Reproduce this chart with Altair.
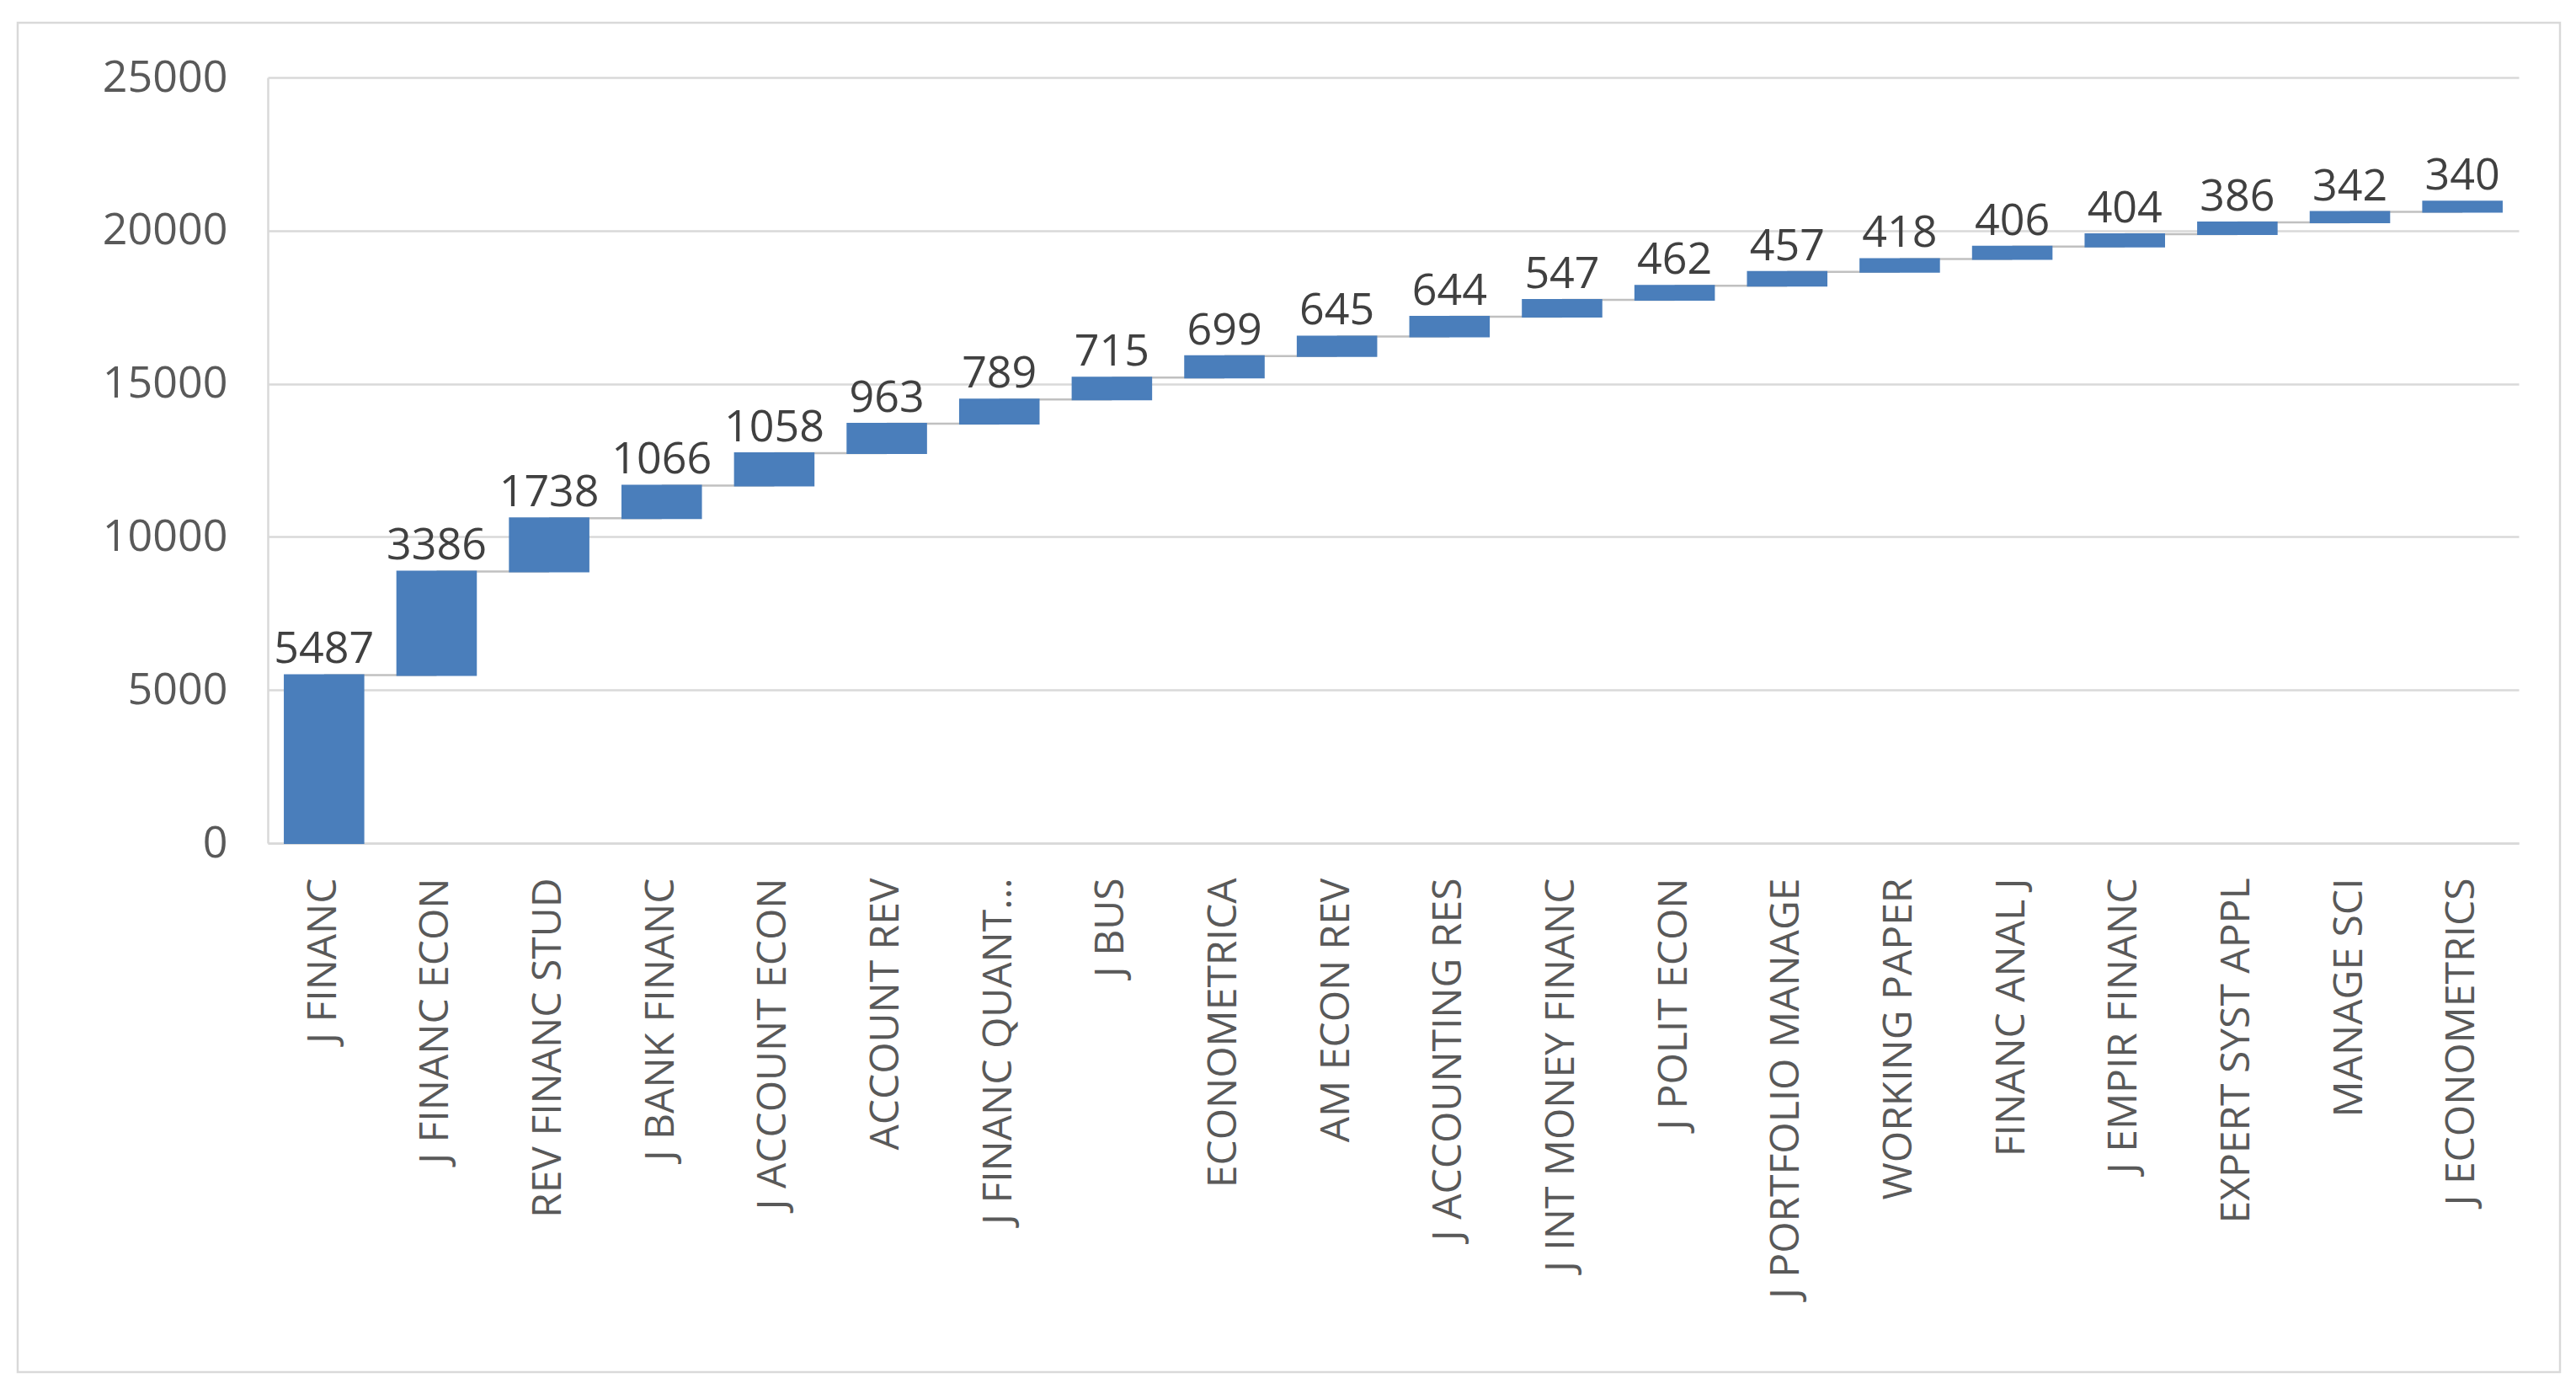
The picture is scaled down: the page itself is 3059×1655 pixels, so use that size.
import altair as alt
import pandas as pd

journals = [
    "J FINANC", "J FINANC ECON", "REV FINANC STUD", "J BANK FINANC",
    "J ACCOUNT ECON", "ACCOUNT REV", "J FINANC QUANT…", "J BUS",
    "ECONOMETRICA", "AM ECON REV", "J ACCOUNTING RES", "J INT MONEY FINANC",
    "J POLIT ECON", "J PORTFOLIO MANAGE", "WORKING PAPER", "FINANC ANAL J",
    "J EMPIR FINANC", "EXPERT SYST APPL", "MANAGE SCI", "J ECONOMETRICS",
]
counts = [5487, 3386, 1738, 1066, 1058, 963, 789, 715, 699, 645,
          644, 547, 462, 457, 418, 406, 404, 386, 342, 340]
y_ticks = [0, 5000, 10000, 15000, 20000, 25000]

df = pd.DataFrame({"journal": journals, "count": counts, "order": list(range(len(journals)))})

FONT = "Open Sans"
BLUE = "#4a7ebb"

xscale = alt.Scale(domain=journals, paddingInner=0.3, paddingOuter=0.15)
yscale = alt.Scale(domain=[0, 25000], nice=False, zero=True)

base = alt.Chart(df).transform_window(
    end="sum(count)", sort=[alt.SortField("order")], frame=[None, 0]
).transform_window(
    nxt="lead(journal)", sort=[alt.SortField("order")]
).transform_calculate(
    start="datum.end - datum.count"
)

xaxis = alt.Axis(
    title=None, labelAngle=-90, labelFontSize=48, labelPadding=41,
    labelLimit=1000, grid=False, ticks=False, labelColor="#595959",
    labelFont=FONT, domainColor="#d9d9d9", domainWidth=2.5,
)
yaxis = alt.Axis(
    title=None, values=y_ticks, format="d", labelFontSize=52, labelPadding=48,
    ticks=False, grid=True, gridColor="#d9d9d9", gridWidth=2.5,
    labelColor="#595959", labelFont=FONT, domainColor="#d9d9d9",
    domainWidth=2.5,
)

connectors = base.transform_filter("datum.nxt != null").mark_rule(
    color="#c0c0c0", strokeWidth=2.5
).encode(
    x=alt.X("journal:N", scale=xscale, axis=xaxis),
    x2="nxt:N",
    y=alt.Y("end:Q", scale=yscale, axis=yaxis),
)

bars = base.mark_bar(color=BLUE, stroke=BLUE, strokeWidth=2).encode(
    x=alt.X("journal:N", scale=xscale, axis=xaxis),
    y=alt.Y("start:Q", scale=yscale, axis=yaxis),
    y2="end:Q",
)

labels = base.mark_text(
    font=FONT, fontSize=52, color="#404040", baseline="alphabetic", dy=-14
).encode(
    x=alt.X("journal:N", scale=xscale, axis=xaxis),
    y=alt.Y("end:Q", scale=yscale, axis=yaxis),
    text=alt.Text("count:Q", format="d"),
)

frame = alt.Chart(pd.DataFrame({"a": [0]})).mark_rect(
    fill=None, stroke="#d9d9d9", strokeWidth=2.5
).encode(
    x=alt.value(-297), x2=alt.value(2722),
    y=alt.value(-65), y2=alt.value(1537),
)

chart = alt.layer(frame, connectors, bars, labels).properties(
    width=2673, height=909,
    padding={"left": 310, "top": 84, "right": 60, "bottom": 646},
    autosize=alt.AutoSizeParams(type="none"),
    background="white",
).configure_view(stroke=None)

chart.save("out.html", embed_options={"renderer": "svg", "actions": False})
